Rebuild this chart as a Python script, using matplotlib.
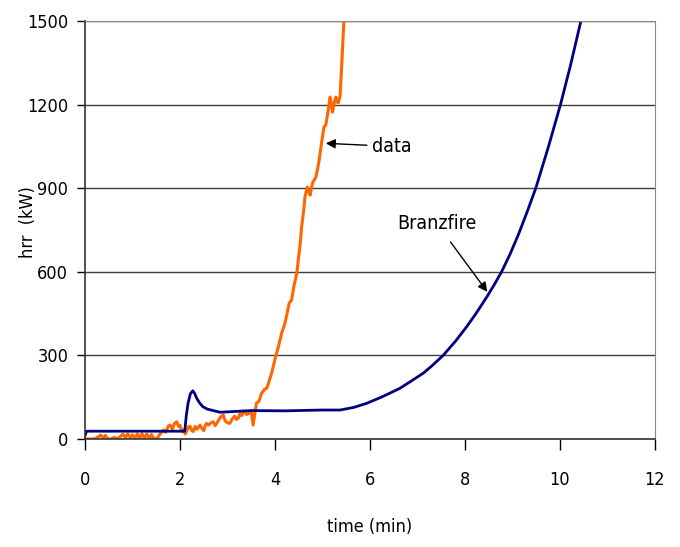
import numpy as np
import matplotlib
matplotlib.use('Agg')
import matplotlib.pyplot as plt
from matplotlib import font_manager

# measured hrr (kW) vs time (min)
data_t = [0.0, 0.1, 0.2, 0.28, 0.33, 0.38, 0.43, 0.48, 0.55, 0.62, 0.68, 0.75, 0.8, 0.85,
          0.9, 0.95, 1.0, 1.05, 1.1, 1.15, 1.2, 1.25, 1.3, 1.35, 1.4, 1.45, 1.52, 1.58,
          1.65, 1.7, 1.75, 1.79, 1.84, 1.88, 1.93, 1.97, 2.0, 2.04, 2.07, 2.11, 2.14,
          2.18, 2.21, 2.25, 2.28, 2.32, 2.36, 2.42, 2.46, 2.5, 2.53, 2.56, 2.6, 2.65,
          2.7, 2.74, 2.78, 2.82, 2.86, 2.91, 2.95, 3.0, 3.05, 3.1, 3.15, 3.19, 3.23,
          3.26, 3.3, 3.35, 3.4, 3.45, 3.5, 3.54, 3.58, 3.61, 3.66, 3.72, 3.78, 3.83,
          3.88, 3.93, 4.01, 4.07, 4.14, 4.18, 4.21, 4.26, 4.30, 4.35, 4.40, 4.46, 4.49,
          4.53, 4.56, 4.60, 4.63, 4.68, 4.71, 4.74, 4.79, 4.86, 4.90, 4.93, 4.98, 5.03,
          5.07, 5.12, 5.16, 5.19, 5.21, 5.25, 5.28, 5.31, 5.33, 5.37, 5.41, 5.45, 5.48]
data_v = [0, 0, 0, 8, 14, 4, 13, 0, 0, 6, 0, 10, 17, 5,
          18, 6, 15, 2, 18, 4, 19, 3, 18, 2, 16, 0, 3, 18,
          32, 24, 45, 50, 36, 55, 62, 45, 49, 28, 32, 18, 28,
          44, 46, 30, 27, 45, 35, 50, 38, 30, 48, 56, 50, 58,
          62, 48, 58, 70, 80, 86, 65, 58, 56, 72, 82, 70, 76,
          92, 84, 100, 88, 92, 100, 50, 98, 129, 135, 165, 178, 183,
          210, 237, 294, 330, 380, 400, 416, 455, 488, 499, 550, 596, 642,
          700, 761, 815, 868, 904, 890, 875, 919, 940, 972, 1001, 1062, 1119,
          1127, 1180, 1227, 1195, 1173, 1210, 1227, 1210, 1206, 1230, 1360, 1500, 1600]

# Branzfire model
model_t = [0, 0.03, 2.1, 2.13, 2.17, 2.22, 2.27, 2.31, 2.35, 2.41, 2.48, 2.58, 2.7, 2.84,
           3.5, 4.2, 5.0, 5.37, 5.65, 5.93, 6.21, 6.4, 6.63, 6.85, 7.12, 7.3, 7.54, 7.8,
           8.04, 8.25, 8.46, 8.62, 8.77, 8.95, 9.13, 9.31, 9.49, 9.75, 10.01, 10.22, 10.44,
           10.5]
model_v = [12, 28, 28, 80, 129, 163, 173, 163, 147, 130, 116, 107, 102, 96,
           102, 101, 104, 104, 113, 128, 148, 163, 182, 206, 236, 262, 300, 351,
           404, 455, 510, 555, 600, 664, 736, 816, 900, 1045, 1200, 1340, 1500,
           1545]

# pick a narrow face if one is installed
fam, stretch = 'DejaVu Sans', 'normal'
for f in font_manager.fontManager.ttflist:
    if f.style == 'normal' and f.weight in (400, 'normal', 'regular') and (
            'Narrow' in f.name or 'Condensed' in f.name or
            f.stretch in ('condensed', 'semi-condensed', 'extra-condensed', 'ultra-condensed')):
        fam, stretch = f.name, f.stretch
        break
plt.rcParams['font.family'] = [fam, 'DejaVu Sans']
plt.rcParams['font.stretch'] = stretch
narrow = fam != 'DejaVu Sans' or stretch != 'normal'
tick_fs, lab_fs, ann_fs = (13, 13, 14) if narrow else (11, 11, 12)

fig = plt.figure(figsize=(6.8, 5.47), dpi=100)
ax = fig.add_axes([85/680, 108/547, 570/680, 418/547])

ax.plot(data_t, data_v, color='#ff6600', lw=2.2, solid_joinstyle='round')
ax.plot(model_t, model_v, color='#000080', lw=2.0, solid_joinstyle='round')

ax.set_xlim(0, 12)
ax.set_ylim(0, 1500)
ax.set_xticks(range(0, 13, 2))
ax.set_yticks(range(0, 1501, 300))
ax.grid(axis='y', color='#404040', lw=1.0)
ax.set_axisbelow(True)

for s in ['left', 'bottom']:
    ax.spines[s].set_color('#333333')
    ax.spines[s].set_linewidth(1.2)
ax.spines['right'].set_color('#888888')
ax.spines['top'].set_color('#888888')

ax.tick_params(axis='y', direction='out', length=6, width=1, pad=6, labelsize=tick_fs)
ax.tick_params(axis='x', direction='out', length=8, width=1, pad=15, labelsize=tick_fs)

ax.set_xlabel('time (min)', fontsize=lab_fs)
ax.set_ylabel('hrr  (kW)', fontsize=lab_fs)
ax.xaxis.set_label_coords(0.5, -0.21)
ax.yaxis.set_label_coords(-0.1, 0.52)
ax.xaxis.label.set_va('center')
ax.yaxis.label.set_va('center')

ax.annotate('data', xy=(5.07, 1061), xytext=(6.05, 1050), fontsize=ann_fs,
            va='center', ha='left',
            arrowprops=dict(arrowstyle='-|>', color='black', lw=1, mutation_scale=14,
                            shrinkA=2, shrinkB=0))
ax.annotate('Branzfire', xy=(8.47, 528), xytext=(7.4, 775), fontsize=ann_fs,
            va='center', ha='center',
            arrowprops=dict(arrowstyle='-|>', color='black', lw=1, mutation_scale=14,
                            shrinkA=6, shrinkB=0))

fig.savefig('out.png', dpi=100)
